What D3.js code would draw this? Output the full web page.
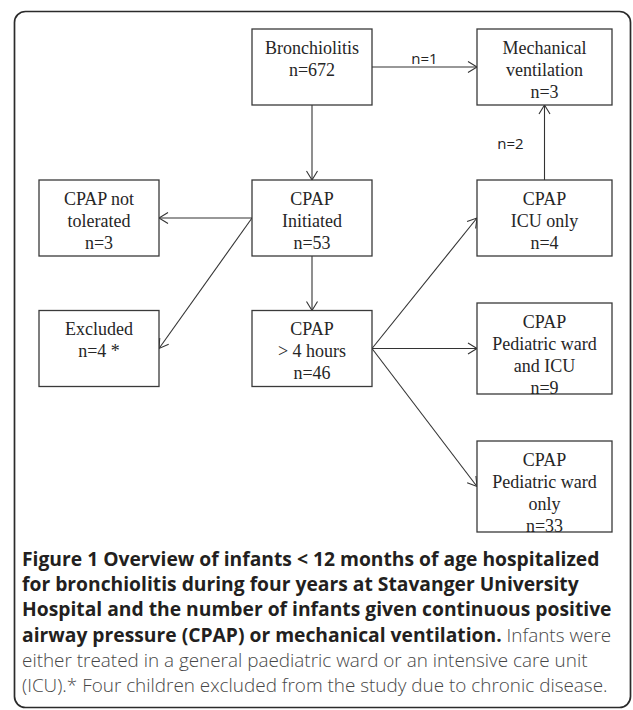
<!DOCTYPE html>
<html>
<head>
<meta charset="utf-8">
<script src="https://cdn.jsdelivr.net/npm/d3@7"></script>
<style>
  body { margin: 0; background: #fff; }
  svg { display: block; }
</style>
</head>
<body>
<svg width="633" height="710"></svg>
<script>
// flowchart content
var nodeIds = ["bronch", "mech", "notTol", "init", "icu", "excl", "gt4", "wardIcu", "wardOnly"];
var nodeLabels = [
  ["Bronchiolitis", "n=672"],
  ["Mechanical", "ventilation", "n=3"],
  ["CPAP not", "tolerated", "n=3"],
  ["CPAP", "Initiated", "n=53"],
  ["CPAP", "ICU only", "n=4"],
  ["Excluded", "n=4 *"],
  ["CPAP", "> 4 hours", "n=46"],
  ["CPAP", "Pediatric ward", "and ICU", "n=9"],
  ["CPAP", "Pediatric ward", "only", "n=33"]
];
var nodeCols = [1, 2, 0, 1, 2, 0, 1, 2, 2];
var nodeRows = [0, 0, 1, 1, 1, 2, 2, 2, 3];

var edgeFrom = ["bronch", "bronch", "icu", "init", "init", "init", "gt4", "gt4", "gt4"];
var edgeTo = ["mech", "init", "mech", "notTol", "excl", "gt4", "icu", "wardIcu", "wardOnly"];
var edgeLabels = ["n=1", "", "n=2", "", "", "", "", "", ""];

var captionBold = [
  "Figure 1 Overview of infants < 12 months of age hospitalized",
  "for bronchiolitis during four years at Stavanger University",
  "Hospital and the number of infants given continuous positive",
  "airway pressure (CPAP) or mechanical ventilation."
];
var captionRegular = [
  " Infants were",
  "either treated in a general paediatric ward or an intensive care unit",
  "(ICU).* Four children excluded from the study due to chronic disease."
];

// layout
var svg = d3.select("svg"),
    ink = "#333";

var colLeft = d3.scaleOrdinal().domain([0, 1, 2]).range([39, 252, 477]),
    colWidth = d3.scaleOrdinal().domain([0, 1, 2]).range([120, 120, 135]),
    rowMid = d3.scaleOrdinal().domain([0, 1, 2, 3]).range([67, 218, 348.5, 486.5]);

var lineGap = 22;

var nodes = nodeIds.map(function(id, i) {
  var h = nodeLabels[i].length > 3 ? 91 : 76;
  return {
    id: id,
    lines: nodeLabels[i],
    x: colLeft(nodeCols[i]),
    w: colWidth(nodeCols[i]),
    y: rowMid(nodeRows[i]) - h / 2,
    h: h
  };
});
var byId = {};
nodes.forEach(function(n) { byId[n.id] = n; });

// outer frame
svg.append("rect")
    .attr("x", 14.5).attr("y", 11.5)
    .attr("width", 616).attr("height", 696)
    .attr("rx", 11).attr("ry", 11)
    .attr("fill", "none")
    .attr("stroke", "#2b2b2b")
    .attr("stroke-width", 1.7);

svg.append("defs").append("marker")
    .attr("id", "arrow")
    .attr("viewBox", "-11 -7 13 14")
    .attr("refX", 0).attr("refY", 0)
    .attr("markerWidth", 13).attr("markerHeight", 14)
    .attr("markerUnits", "userSpaceOnUse")
    .attr("orient", "auto")
  .append("path")
    .attr("d", "M-9,-5.5L0,0L-9,5.5")
    .attr("fill", "none")
    .attr("stroke", ink)
    .attr("stroke-width", 1.1);

// edge geometry: vertical when in the same column, side to side otherwise
var edges = edgeFrom.map(function(f, i) {
  var s = byId[f], t = byId[edgeTo[i]], p;
  if (s.x === t.x) {
    var cx = s.x + s.w / 2;
    p = t.y > s.y ? [cx, s.y + s.h, cx, t.y] : [cx, s.y, cx, t.y + t.h];
  } else {
    var sy = s.y + s.h / 2, ty = t.y + t.h / 2;
    p = t.x > s.x ? [s.x + s.w, sy, t.x, ty] : [s.x, sy, t.x + t.w, ty];
  }
  return {p: p, label: edgeLabels[i], vertical: s.x === t.x};
});

svg.append("g").selectAll("line")
  .data(edges)
  .enter().append("line")
    .attr("x1", function(d) { return d.p[0]; })
    .attr("y1", function(d) { return d.p[1]; })
    .attr("x2", function(d) { return d.p[2]; })
    .attr("y2", function(d) { return d.p[3]; })
    .attr("stroke", ink)
    .attr("stroke-width", 1.1)
    .attr("marker-end", "url(#arrow)");

svg.append("g").selectAll("text")
  .data(edges.filter(function(d) { return d.label; }))
  .enter().append("text")
    .attr("x", function(d) { return (d.p[0] + d.p[2]) / 2 - (d.vertical ? 34 : 0); })
    .attr("y", function(d) { return (d.p[1] + d.p[3]) / 2 + (d.vertical ? 6.5 : -3); })
    .attr("text-anchor", "middle")
    .style("font", "15px 'Open Sans', sans-serif")
    .attr("fill", "#222")
    .text(function(d) { return d.label; });

// boxes
var box = svg.append("g").selectAll("g")
  .data(nodes)
  .enter().append("g")
    .attr("transform", function(d) { return "translate(" + d.x + "," + d.y + ")"; });

box.append("rect")
    .attr("width", function(d) { return d.w; })
    .attr("height", function(d) { return d.h; })
    .attr("fill", "#fff")
    .attr("stroke", "#3a3a3a")
    .attr("stroke-width", 1.3);

box.selectAll("text")
  .data(function(d) { return d.lines.map(function(l) { return {t: l, w: d.w}; }); })
  .enter().append("text")
    .attr("x", function(d) { return d.w / 2; })
    .attr("y", function(d, i) { return 18.5 + i * lineGap; })
    .attr("dy", "0.35em")
    .attr("text-anchor", "middle")
    .style("font", "18px 'Liberation Serif', 'Times New Roman', serif")
    .attr("fill", "#262626")
    .text(function(d) { return d.t; });

// caption
var capFont = "'Open Sans', sans-serif",
    capTop = 566,
    capGap = 25.2;

var cap = svg.append("g").attr("transform", "translate(22,0)");

// size bold and light text so their longest lines span the frame
function fitSize(text, weight, target) {
  var probe = cap.append("text")
      .style("font-family", capFont)
      .style("font-weight", weight)
      .style("font-size", "17px")
      .text(text);
  var s = 17 * target / probe.node().getComputedTextLength();
  probe.remove();
  return s;
}
var boldSize = fitSize(captionBold[2], 700, 590),
    lightSize = fitSize(captionRegular[2], 300, 586);

captionBold.forEach(function(line, i) {
  var t = cap.append("text")
      .attr("y", capTop + i * capGap)
      .style("font-family", capFont);
  t.append("tspan")
      .style("font-weight", 700)
      .style("font-size", boldSize + "px")
      .attr("fill", "#231f20")
      .text(line);
  if (i === captionBold.length - 1) {
    t.append("tspan")
        .style("font-weight", 300)
        .style("font-size", lightSize + "px")
        .attr("fill", "#474747")
        .text(captionRegular[0]);
  }
});

captionRegular.slice(1).forEach(function(line, i) {
  cap.append("text")
      .attr("y", capTop + (captionBold.length + i) * capGap)
      .style("font-family", capFont)
      .style("font-weight", 300)
      .style("font-size", lightSize + "px")
      .attr("fill", "#474747")
      .text(line);
});
</script>
</body>
</html>
